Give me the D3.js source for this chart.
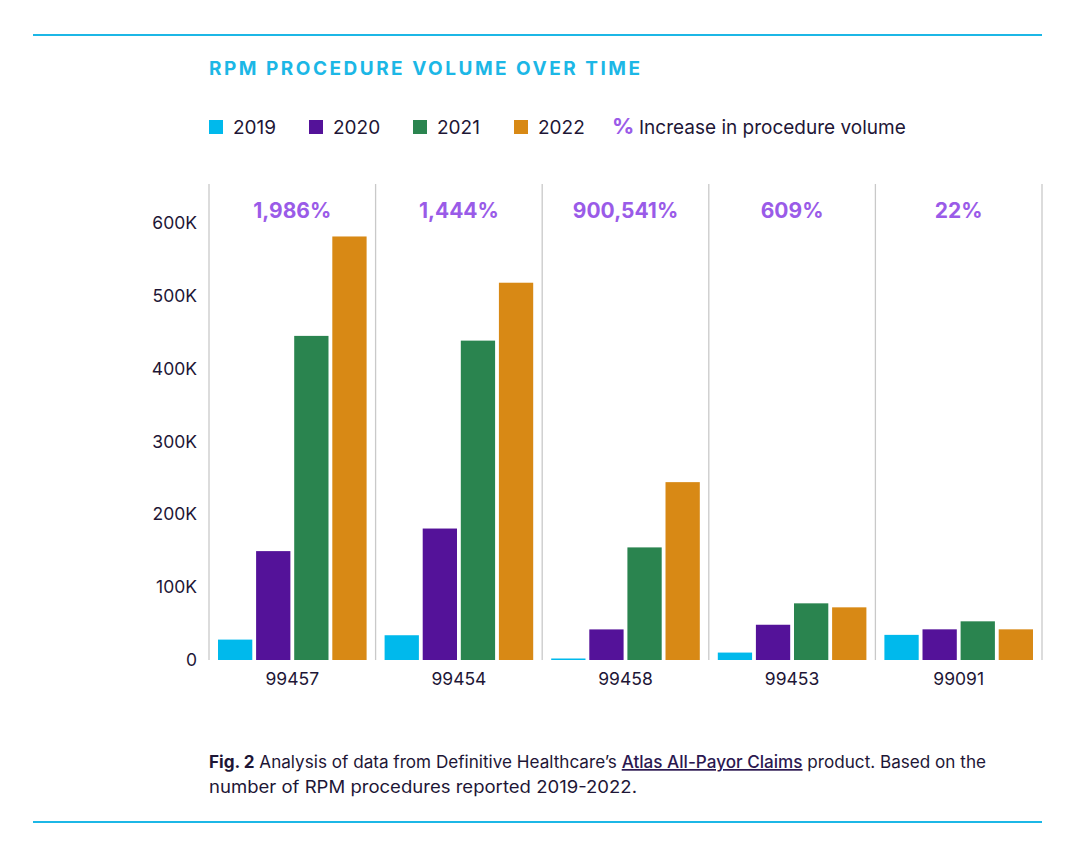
<!DOCTYPE html>
<html><head><meta charset="utf-8">
<script src="https://cdn.jsdelivr.net/npm/d3@7"></script>
<style>
html,body{margin:0;padding:0;background:#fff;}
svg{display:block;}
text{font-family:Inter,"Noto Sans",sans-serif;}
</style></head>
<body>
<svg id="chart" width="1080" height="853"></svg>
<script>
const categories = ["99457","99454","99458","99453","99091"];
const years = ["2019","2020","2021","2022"];
const v2019 = [28000, 34000, 27, 10200, 34500];
const v2020 = [149500, 180500, 42000, 48400, 42100];
const v2021 = [445000, 438500, 154600, 77800, 53100];
const v2022 = [581500, 518000, 244200, 72300, 42100];
const pctLabels = ["1,986%","1,444%","900,541%","609%","22%"];
const yTicks = [0,100000,200000,300000,400000,500000,600000];
const yTickLabels = ["0","100K","200K","300K","400K","500K","600K"];
const colors = ["#00b9ec","#541299","#2a844f","#d88915"];
const series = [v2019, v2020, v2021, v2022];

const svg = d3.select("#chart");
const dark = "#1e1636";
const cyan = "#1cb7e6";

// frame lines
svg.append("line").attr("x1",33).attr("x2",1042).attr("y1",35).attr("y2",35)
  .attr("stroke",cyan).attr("stroke-width",2);
svg.append("line").attr("x1",33).attr("x2",1042).attr("y1",822).attr("y2",822)
  .attr("stroke",cyan).attr("stroke-width",2);

// title
svg.append("text").attr("x",209).attr("y",75)
  .attr("fill",cyan).attr("font-size",19).attr("font-weight",700)
  .attr("letter-spacing",2.5)
  .text("RPM PROCEDURE VOLUME OVER TIME");

// legend
const legX = [209, 309, 413, 514];
years.forEach((y,i)=>{
  svg.append("rect").attr("x",legX[i]).attr("y",120).attr("width",14).attr("height",14).attr("fill",colors[i]);
  svg.append("text").attr("x",legX[i]+24).attr("y",134).attr("font-size",19).attr("fill",dark).text(y);
});
svg.append("text").attr("x",612).attr("y",134).attr("font-size",22).attr("font-weight",700).attr("fill","#9a5be8").text("%");
svg.append("text").attr("x",639).attr("y",134).attr("font-size",19).attr("fill",dark).text("Increase in procedure volume");

// scales
const y = d3.scaleLinear().domain([0,600000]).range([660,223]);
const x0 = d3.scaleBand().domain(categories).range([209,1042]).paddingInner(0).paddingOuter(0);
const x1 = d3.scaleBand().domain(years).range([9, x0.bandwidth()-9]).paddingInner(0.1).paddingOuter(0);

// dividers
const divs = categories.map(c=>x0(c)).concat([x0(categories[categories.length-1])+x0.bandwidth()]);
svg.selectAll("line.div").data(divs).enter().append("line").attr("class","div")
  .attr("x1",d=>d).attr("x2",d=>d).attr("y1",184).attr("y2",660)
  .attr("stroke","#c9c9c9").attr("stroke-width",1.3);

// y axis
const yAxis = d3.axisLeft(y).tickValues(yTicks).tickFormat((d,i)=>yTickLabels[i]).tickSize(0).tickPadding(12);
const ya = svg.append("g").attr("transform","translate(209,0)").call(yAxis);
ya.select(".domain").remove();
ya.selectAll("text").attr("font-size",17.5).attr("fill",dark).style("font-family","Inter,'Noto Sans',sans-serif");

// x axis
const xAxis = d3.axisBottom(x0).tickSize(0).tickPadding(13);
const xa = svg.append("g").attr("transform","translate(0,660)").call(xAxis);
xa.select(".domain").remove();
xa.selectAll("text").attr("font-size",17.5).attr("fill",dark).style("font-family","Inter,'Noto Sans',sans-serif");

// bars
const data = [];
categories.forEach((c,ci)=>years.forEach((yr,yi)=>data.push({c, yr, v: series[yi][ci], col: colors[yi]})));
svg.append("g").selectAll("rect").data(data).enter().append("rect")
  .attr("x",d=>x0(d.c)+x1(d.yr))
  .attr("width",x1.bandwidth())
  .attr("y",d=>Math.min(y(d.v), y(0)-1.5))
  .attr("height",d=>Math.max(y(0)-y(d.v),1.5))
  .attr("fill",d=>d.col);

// percent labels
svg.append("g").selectAll("text").data(categories).enter().append("text")
  .attr("x",d=>x0(d)+x0.bandwidth()/2).attr("y",218)
  .attr("text-anchor","middle").attr("font-size",21).attr("font-weight",700)
  .attr("fill","#9a5be8").text((d,i)=>pctLabels[i]);

// caption
const cap1 = svg.append("text").attr("x",209).attr("y",768).attr("font-size",17).attr("fill",dark)
  .attr("textLength",777).attr("lengthAdjust","spacingAndGlyphs");
cap1.append("tspan").attr("font-weight",700).text("Fig. 2");
cap1.append("tspan").text(" Analysis of data from Definitive Healthcare’s ");
cap1.append("tspan").attr("text-decoration","underline").attr("fill","#2b1850").attr("font-weight",500).text("Atlas All-Payor Claims");
cap1.append("tspan").text(" product. Based on the");
svg.append("text").attr("x",209).attr("y",793).attr("font-size",17).attr("fill",dark)
  .attr("textLength",428).attr("lengthAdjust","spacingAndGlyphs")
  .text("number of RPM procedures reported 2019-2022.");
</script>
</body></html>
